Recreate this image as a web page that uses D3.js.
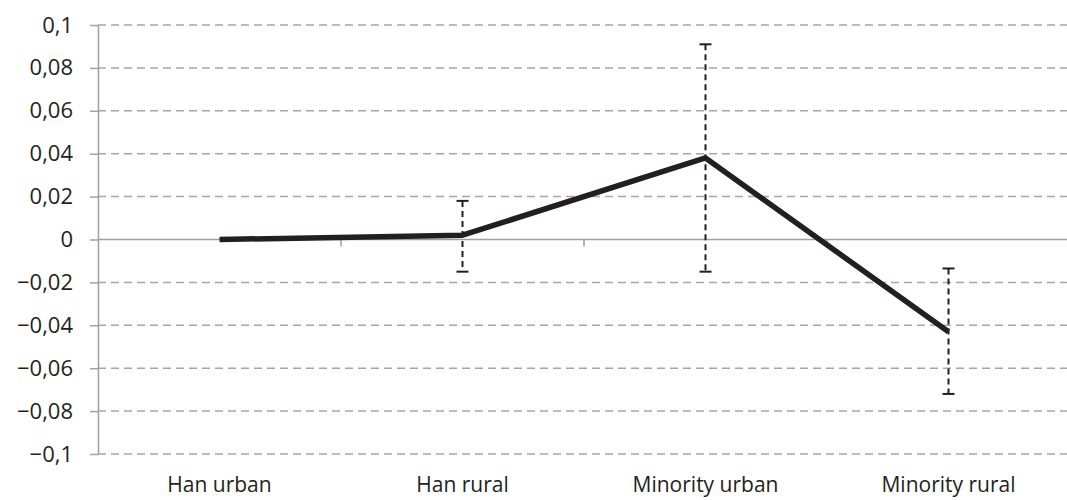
<!DOCTYPE html>
<html>
<head>
<meta charset="utf-8">
<script src="https://cdn.jsdelivr.net/npm/d3@7"></script>
<style>
  body { margin: 0; background: #fff; }
  svg { display: block; }
  svg text { font-family: "Open Sans", "Liberation Sans", sans-serif; }
</style>
</head>
<body>
<svg width="1067" height="500"></svg>
<script>
var categories = ["Han urban", "Han rural", "Minority urban", "Minority rural"];
var values = [0, 0.002, 0.038, -0.043];
var errHigh = [null, 0.018, 0.091, -0.0135];
var errLow = [null, -0.015, -0.015, -0.072];
var yTicks = [-0.1, -0.08, -0.06, -0.04, -0.02, 0, 0.02, 0.04, 0.06, 0.08, 0.1];

var svg = d3.select("svg");
var margin = {top: 25, right: -3, bottom: 46, left: 98};
var width = 1067 - margin.left - margin.right;
var height = 500 - margin.top - margin.bottom;

var g = svg.append("g")
  .attr("transform", "translate(" + margin.left + "," + margin.top + ")");

var x = d3.scaleBand().domain(categories).range([0, width]);
var y = d3.scaleLinear().domain([-0.1, 0.1]).range([height, 0]);

function fmt(d) {
  if (d === 0) return "0";
  return d3.format("")(+d.toFixed(2)).replace(".", ",").replace("-", "\u2013");
}

// gridlines
g.selectAll(".grid")
  .data(yTicks.filter(function(d) { return d !== 0; }))
  .enter().append("line")
  .attr("class", "grid")
  .attr("x1", 0)
  .attr("x2", width)
  .attr("y1", function(d) { return y(d); })
  .attr("y2", function(d) { return y(d); })
  .attr("stroke", "#a6a6a6")
  .attr("stroke-width", 1.5)
  .attr("stroke-dasharray", "8,5");

// y axis
var yAxis = g.append("g")
  .call(d3.axisLeft(y).tickValues(yTicks).tickFormat(fmt).tickSize(8).tickSizeOuter(0).tickPadding(17));
yAxis.select(".domain").attr("stroke", "#a0a0a0").attr("stroke-width", 1.5);
yAxis.selectAll(".tick line").attr("stroke", "#a0a0a0").attr("stroke-width", 1.5);
yAxis.selectAll(".tick text").style("font-size", "22px").attr("fill", "#231f20");

// zero line with category ticks
g.append("line")
  .attr("x1", 0).attr("x2", width)
  .attr("y1", y(0)).attr("y2", y(0))
  .attr("stroke", "#a0a0a0").attr("stroke-width", 1.5);

g.selectAll(".ctick")
  .data(categories.slice(1))
  .enter().append("line")
  .attr("class", "ctick")
  .attr("x1", function(d) { return x(d); })
  .attr("x2", function(d) { return x(d); })
  .attr("y1", y(0))
  .attr("y2", y(0) + 7)
  .attr("stroke", "#a0a0a0").attr("stroke-width", 1.5);

// category labels
g.selectAll(".clabel")
  .data(categories)
  .enter().append("text")
  .attr("class", "clabel")
  .attr("x", function(d) { return x(d) + x.bandwidth() / 2; })
  .attr("y", height + 38)
  .attr("text-anchor", "middle")
  .style("font-size", "21px")
  .attr("fill", "#231f20")
  .text(function(d) { return d; });

// error bars
var errData = categories.map(function(c, i) {
  return {cat: c, hi: errHigh[i], lo: errLow[i]};
}).filter(function(d) { return d.hi !== null; });

g.selectAll(".err")
  .data(errData)
  .enter().append("line")
  .attr("class", "err")
  .attr("x1", function(d) { return x(d.cat) + x.bandwidth() / 2; })
  .attr("x2", function(d) { return x(d.cat) + x.bandwidth() / 2; })
  .attr("y1", function(d) { return y(d.hi); })
  .attr("y2", function(d) { return y(d.lo); })
  .attr("stroke", "#231f20")
  .attr("stroke-width", 2)
  .attr("stroke-dasharray", "6,4");

["hi", "lo"].forEach(function(k) {
  g.selectAll(".cap-" + k)
    .data(errData)
    .enter().append("line")
    .attr("class", "cap-" + k)
    .attr("x1", function(d) { return x(d.cat) + x.bandwidth() / 2 - 6; })
    .attr("x2", function(d) { return x(d.cat) + x.bandwidth() / 2 + 6; })
    .attr("y1", function(d) { return y(d[k]); })
    .attr("y2", function(d) { return y(d[k]); })
    .attr("stroke", "#231f20")
    .attr("stroke-width", 2);
});

// main line
var line = d3.line()
  .x(function(d, i) { return x(categories[i]) + x.bandwidth() / 2; })
  .y(function(d) { return y(d); });

g.append("path")
  .datum(values)
  .attr("d", line)
  .attr("fill", "none")
  .attr("stroke", "#231f20")
  .attr("stroke-width", 5.5)
  .attr("stroke-linejoin", "round");
</script>
</body>
</html>
